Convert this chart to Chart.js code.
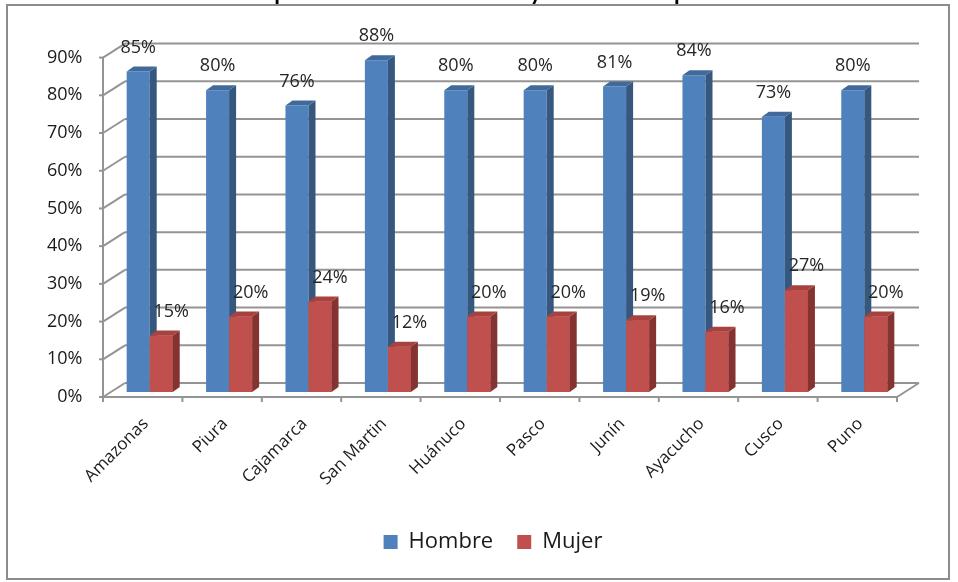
<!DOCTYPE html>
<html>
<head>
<meta charset="utf-8">
<script src="https://cdn.jsdelivr.net/npm/chart.js@4.4.0/dist/chart.umd.min.js"></script>
<style>
  html, body { margin: 0; padding: 0; background: #fff; }
  #wrap { width: 958px; height: 582px; }
</style>
</head>
<body>
<div id="wrap"><canvas id="c" width="958" height="582"></canvas></div>
<script>
// Departamentos y porcentajes por sexo
const departamentos = ['Amazonas', 'Piura', 'Cajamarca', 'San Martin', 'Huánuco', 'Pasco', 'Junín', 'Ayacucho', 'Cusco', 'Puno'];
const hombre = [85, 80, 76, 88, 80, 80, 81, 84, 73, 80];
const mujer  = [15, 20, 24, 12, 20, 20, 19, 16, 27, 20];
const etiquetasY = ['0%', '10%', '20%', '30%', '40%', '50%', '60%', '70%', '80%', '90%'];

// Perspective offsets (pixels) used to fake the 3D look
const BAR_DEPTH = { dx: 7, dy: -5 };   // depth of each column
const FRONT = { dx: -7, dy: 5 };       // front edge of floor / value axis
const BACK = { dx: 15, dy: -9 };       // back wall

const GRID_COLOR = '#949494';
const FACES = [
  { side: '#36587f', top: '#416a9c' },
  { side: '#853331', top: '#a8423f' }
];

function line(ctx, x1, y1, x2, y2) {
  ctx.beginPath();
  ctx.moveTo(x1, y1);
  ctx.lineTo(x2, y2);
  ctx.stroke();
}

function poly(ctx, pts, color) {
  ctx.beginPath();
  ctx.moveTo(pts[0][0], pts[0][1]);
  for (let i = 1; i < pts.length; i++) ctx.lineTo(pts[i][0], pts[i][1]);
  ctx.closePath();
  ctx.fillStyle = color;
  ctx.fill();
}

function drawFaces(ctx, bar, colors) {
  const p = bar.getProps(['x', 'y', 'base', 'width'], true);
  const L = p.x - p.width / 2, R = p.x + p.width / 2;
  const top = p.y, base = p.base;
  const dx = BAR_DEPTH.dx, dy = BAR_DEPTH.dy;
  poly(ctx, [[R, top], [R + dx, top + dy], [R + dx, base + dy], [R, base]], colors.side);
  poly(ctx, [[L, top], [L + dx, top + dy], [R + dx, top + dy], [R, top]], colors.top);
}

const pseudo3d = {
  id: 'pseudo3d',
  beforeDraw(chart) {
    const { ctx } = chart;
    ctx.save();
    ctx.fillStyle = '#ffffff';
    ctx.fillRect(0, 0, chart.width, chart.height);
    ctx.restore();
  },
  beforeDatasetsDraw(chart) {
    const { ctx, chartArea: a, scales: { x, y } } = chart;
    ctx.save();
    ctx.strokeStyle = GRID_COLOR;
    ctx.lineWidth = 2;
    y.ticks.forEach(t => {
      const py = y.getPixelForValue(t.value);
      line(ctx, a.left + FRONT.dx, py + FRONT.dy, a.left + BACK.dx, py + BACK.dy);
      line(ctx, a.left + BACK.dx, py + BACK.dy, a.right + BACK.dx, py + BACK.dy);
      line(ctx, a.left + FRONT.dx - 4, py + FRONT.dy, a.left + FRONT.dx, py + FRONT.dy);
    });
    const y0 = y.getPixelForValue(y.min);
    const yMax = y.getPixelForValue(y.max);
    // value axis
    line(ctx, a.left + FRONT.dx, y0 + FRONT.dy, a.left + FRONT.dx, yMax + FRONT.dy);
    // floor front and right edges
    line(ctx, a.left + FRONT.dx, y0 + FRONT.dy, a.right + FRONT.dx, y0 + FRONT.dy);
    line(ctx, a.right + FRONT.dx, y0 + FRONT.dy, a.right + BACK.dx, y0 + BACK.dy);
    // category tick marks
    const n = chart.data.labels.length;
    for (let i = 0; i <= n; i++) {
      let xb;
      if (i === 0) xb = a.left;
      else if (i === n) xb = a.right;
      else xb = (x.getPixelForValue(i - 1) + x.getPixelForValue(i)) / 2;
      line(ctx, xb + FRONT.dx, y0 + FRONT.dy, xb + FRONT.dx, y0 + FRONT.dy + 5);
    }
    ctx.restore();
  },
  afterDatasetsDraw(chart) {
    const { ctx } = chart;
    const mb = chart.getDatasetMeta(0);
    const mr = chart.getDatasetMeta(1);
    ctx.save();
    mb.data.forEach((bar, i) => {
      drawFaces(ctx, bar, FACES[0]);
      mr.data[i].draw(ctx);
      drawFaces(ctx, mr.data[i], FACES[1]);
    });
    // value labels
    ctx.font = "18px 'Open Sans'";
    ctx.fillStyle = '#262626';
    ctx.textAlign = 'center';
    ctx.textBaseline = 'middle';
    mb.data.forEach((bar, i) => {
      ctx.fillText(chart.data.datasets[0].data[i] + '%', bar.x, bar.y - 24);
    });
    mr.data.forEach((bar, i) => {
      ctx.fillText(chart.data.datasets[1].data[i] + '%', bar.x + 10, bar.y - 24);
    });
    ctx.restore();
  },
  afterDraw(chart) {
    const { ctx } = chart;
    ctx.save();
    ctx.strokeStyle = '#8c8c8c';
    ctx.lineWidth = 2;
    ctx.strokeRect(7, 5, 942, 574);
    ctx.restore();
  }
};

Chart.defaults.font.family = "'Open Sans', sans-serif";

new Chart(document.getElementById('c'), {
  type: 'bar',
  data: {
    labels: departamentos,
    datasets: [
      { label: 'Hombre', data: hombre, backgroundColor: '#4f81bd', borderWidth: 0, categoryPercentage: 0.58, barPercentage: 1 },
      { label: 'Mujer', data: mujer, backgroundColor: '#c0504d', borderWidth: 0, categoryPercentage: 0.58, barPercentage: 1 }
    ]
  },
  options: {
    responsive: false,
    animation: false,
    layout: { padding: { left: 82, right: 54, top: 0, bottom: 19 } },
    plugins: {
      title: {
        display: true,
        text: 'La representación de alcaldes y autoridades por sexo',
        color: '#000',
        font: { family: 'Lato', size: 23, weight: 'bold' },
        padding: { top: -21, bottom: 46 }
      },
      legend: {
        position: 'bottom',
        labels: { boxWidth: 14, boxHeight: 14, padding: 24, color: '#1a1a1a', font: { size: 22 } }
      },
      tooltip: { enabled: false }
    },
    scales: {
      x: {
        grid: { display: false },
        border: { display: false },
        ticks: { minRotation: 45, maxRotation: 45, autoSkip: false, padding: 14, labelOffset: -4, color: '#1a1a1a', font: { size: 17 } },
        afterFit(scale) { scale.height = 115; }
      },
      y: {
        min: 0,
        max: 90,
        grid: { display: false },
        border: { display: false },
        ticks: {
          stepSize: 10,
          mirror: true,
          crossAlign: 'far',
          padding: -63,
          labelOffset: 5,
          color: '#1a1a1a',
          font: { size: 18 },
          callback: (v) => etiquetasY[Math.round(v / 10)]
        },
        afterFit(scale) { scale.width = 28; }
      }
    }
  },
  plugins: [pseudo3d]
});
</script>
</body>
</html>
